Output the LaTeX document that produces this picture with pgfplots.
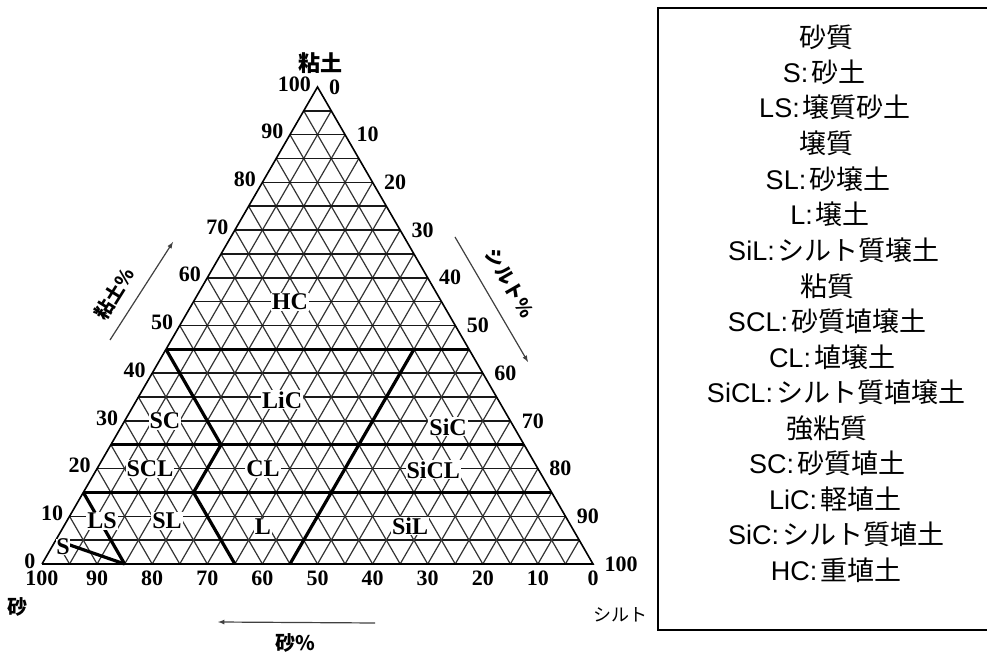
\documentclass[border=0pt]{standalone}
\usepackage{pgfplots}
\pgfplotsset{compat=1.18}
\usepackage{fontspec}
\setmainfont{Liberation Sans}
\newfontfamily\jp{Noto Sans CJK JP}
\newfontfamily\tnr{Liberation Serif}
\newcommand\lat[1]{{\fontsize{27}{27}\selectfont\rmfamily #1}}
\newcommand\ent[2]{\lat{#1:}\hspace{3pt}{\jp\fontsize{27}{27}\selectfont #2}}
\newcommand\hdr[1]{{\jp\fontsize{27}{27}\selectfont #1}}
\begin{document}
\begin{tikzpicture}
\useasboundingbox (0,0) rectangle (987pt,655pt);
\begin{axis}[at={(42pt,91pt)}, anchor=south west, scale only axis,
  width=551pt, height=477pt, xmin=0, xmax=100, ymin=0, ymax=86.6025,
  hide axis, clip=false]
% grid (every 5 %)
\pgfplotsinvokeforeach{1,...,19}{
  \draw[black!90, line width=1.5pt] (axis cs:{#1*2.5},{#1*4.330127}) -- (axis cs:{100-#1*2.5},{#1*4.330127});
  \draw[black!80, line width=1.2pt] (axis cs:{#1*5},0) -- (axis cs:{50+#1*2.5},{86.60254-#1*4.330127});
  \draw[black!80, line width=1.2pt] (axis cs:{100-#1*5},0) -- (axis cs:{50-#1*2.5},{86.60254-#1*4.330127});
}
% outline
\addplot[black, line width=1.6pt] coordinates {(0,0) (100,0) (50,86.6025) (0,0)};
% class boundaries
\addplot[black, line width=3.2pt] coordinates {(22.5,38.9711) (77.5,38.9711)};
\addplot[black, line width=3.2pt] coordinates {(12.5,21.6506) (87.5,21.6506)};
\addplot[black, line width=3.2pt] coordinates {(7.5,12.9904) (92.5,12.9904)};
\addplot[black, line width=3.2pt] coordinates {(22.5,38.9711) (32.5,21.6506) (27.5,12.9904) (35,0)};
\addplot[black, line width=3.2pt] coordinates {(45,0) (67.5,38.9711)};
\addplot[black, line width=3.2pt] coordinates {(7.5,12.9904) (15,0)};
\addplot[black, line width=3.2pt] coordinates {(2.5,4.3301) (15,0)};
% tick labels
\pgfplotsinvokeforeach{0,10,...,100}{
  \node[anchor=east, xshift=-3pt, yshift=3pt, font=\tnr\bfseries\fontsize{22}{22}\selectfont] at (axis cs:{#1/2},{0.8660254*#1}) {#1};
  \node[anchor=west, xshift=8pt, font=\tnr\bfseries\fontsize{22}{22}\selectfont] at (axis cs:{50+#1/2},{0.8660254*(100-#1)}) {#1};
  \node[anchor=north, yshift=-3pt, font=\tnr\bfseries\fontsize{22}{22}\selectfont] at (axis cs:{100-#1},0) {#1};
}
% class labels
\tikzset{cl/.style={fill=white, inner sep=1pt, font=\tnr\bfseries\fontsize{24}{24}\selectfont}}
\node[cl] at (axis cs:45,47.6) {HC};
\node[cl] at (axis cs:43.6,29.8) {LiC};
\node[cl] at (axis cs:22.3,26.0) {SC};
\node[cl] at (axis cs:19.6,17.3) {SCL};
\node[cl] at (axis cs:40.1,17.3) {CL};
\node[cl] at (axis cs:10.9,7.8) {LS};
\node[cl] at (axis cs:22.7,7.8) {SL};
\node[cl] at (axis cs:40.1,6.8) {L};
\node[cl, inner sep=0pt] at (axis cs:3.8,3.1) {S};
\node[cl] at (axis cs:73.7,24.9) {SiC};
\node[cl] at (axis cs:71.0,17.1) {SiCL};
\node[cl] at (axis cs:66.8,6.9) {SiL};
\end{axis}
% axis titles
\tikzset{ttl/.style={font=\jp\bfseries\fontsize{20}{20}\selectfont}}
\node[ttl, font=\jp\bfseries\fontsize{22}{22}\selectfont] at (320pt,592pt) {粘土};
\node[ttl] at (18pt,48pt) {砂};
\node[ttl, font=\jp\fontsize{18}{18}\selectfont] at (620pt,40pt) {シルト};
\node[ttl] at (295pt,12pt) {砂\%};
\draw[-latex, line width=1.2pt, black!75] (375pt,32pt) -- (218pt,33pt);
\node[ttl, rotate=58, inner sep=0pt, font=\jp\bfseries\fontsize{19}{19}\selectfont] at (114pt,361pt) {粘土\%};
\draw[-latex, line width=1.2pt, black!75] (110pt,315pt) -- (173pt,413pt);
\node[ttl, rotate=-60, inner sep=0pt, font=\jp\bfseries\fontsize{19}{19}\selectfont] at (510pt,372pt) {シルト\%};
\draw[-latex, line width=1.2pt, black!75] (455pt,418pt) -- (528pt,293pt);
% legend box
\draw[line width=2pt] (658pt,25pt) rectangle (995pt,647pt);
\node at (826pt,618pt) {\hdr{砂質}};
\node at (824pt,583pt) {\ent{S}{砂土}};
\node at (835pt,548pt) {\ent{LS}{壌質砂土}};
\node at (826pt,512pt) {\hdr{壌質}};
\node at (828pt,476pt) {\ent{SL}{砂壌土}};
\node at (830pt,441pt) {\ent{L}{壌土}};
\node at (834pt,405pt) {\ent{SiL}{シルト質壌土}};
\node at (827pt,369pt) {\hdr{粘質}};
\node at (827pt,334pt) {\ent{SCL}{砂質埴壌土}};
\node at (832pt,298pt) {\ent{CL}{埴壌土}};
\node at (836pt,263pt) {\ent{SiCL}{シルト質埴壌土}};
\node at (827pt,227pt) {\hdr{強粘質}};
\node at (827pt,192pt) {\ent{SC}{砂質埴土}};
\node at (835pt,156pt) {\ent{LiC}{軽埴土}};
\node at (836pt,121pt) {\ent{SiC}{シルト質埴土}};
\node at (836pt,85pt) {\ent{HC}{重埴土}};
\end{tikzpicture}
\end{document}
